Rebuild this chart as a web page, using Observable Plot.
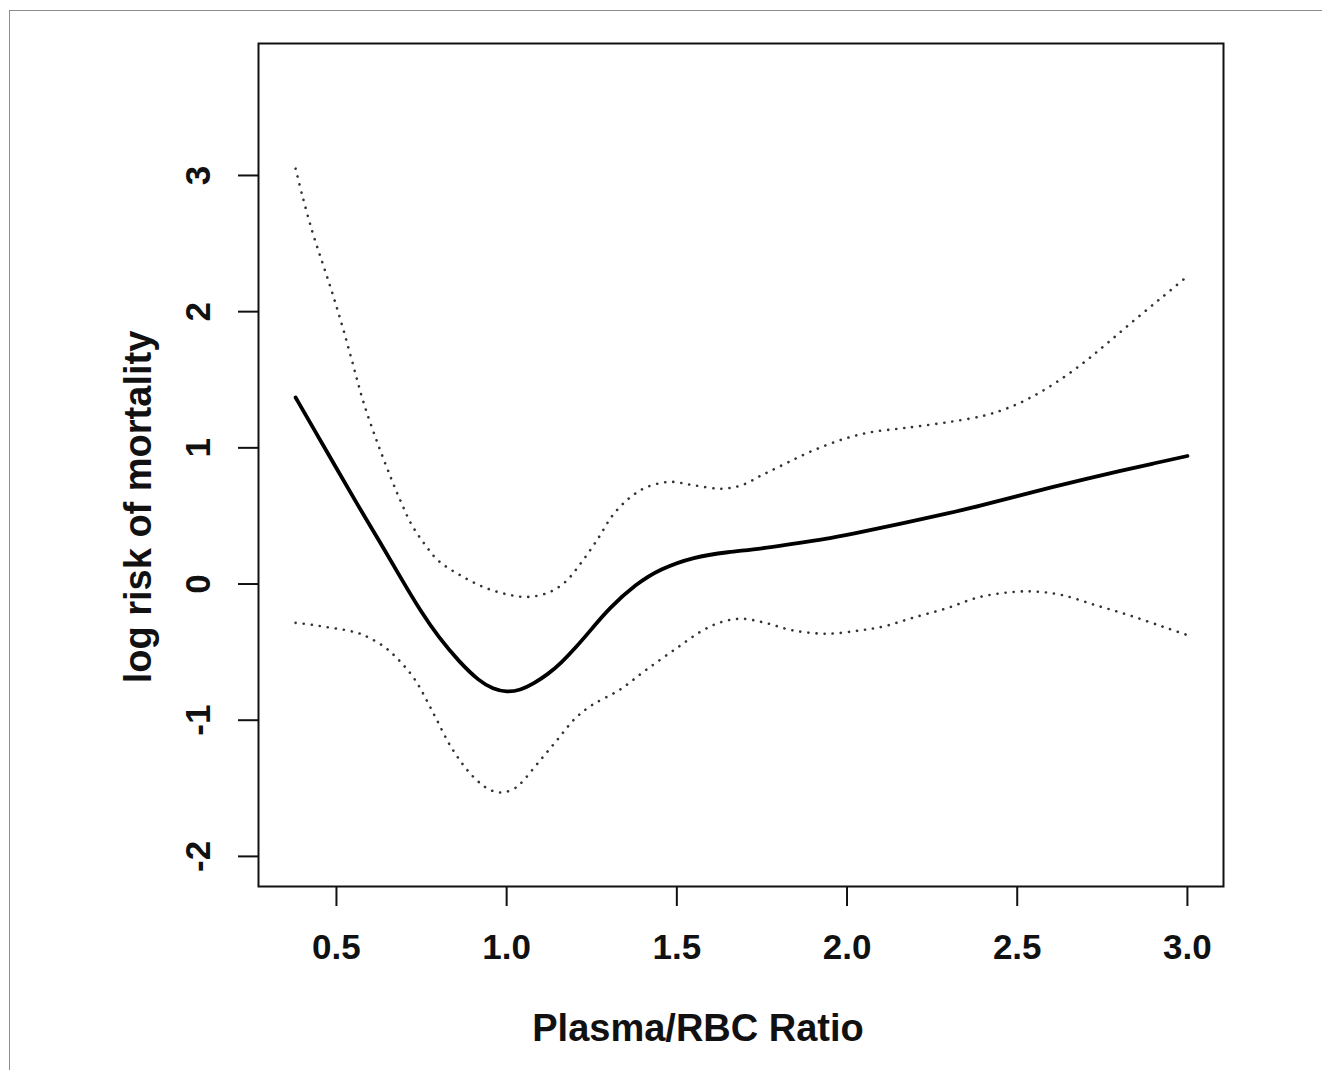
<!DOCTYPE html>
<html>
<head>
<meta charset="utf-8">
<script src="https://cdn.jsdelivr.net/npm/d3@7"></script>
<script src="https://cdn.jsdelivr.net/npm/@observablehq/plot@0.6"></script>
<style>
  html, body { margin: 0; padding: 0; background: #ffffff; }
  #wrap { position: relative; width: 1322px; height: 1070px; overflow: hidden; }
  #border { position: absolute; left: 9px; top: 10px; width: 1330px; height: 1080px; border: 1.5px solid #8c8c8c; box-sizing: border-box; pointer-events: none; }
</style>
</head>
<body>
<div id="wrap"><div id="border"></div></div>
<script>
// Fitted spline (solid line)
const fitX = [0.38, 0.44, 0.50, 0.56, 0.63, 0.69, 0.75, 0.80, 0.86, 0.92, 0.96, 1.00, 1.04, 1.08, 1.12, 1.16, 1.20, 1.25, 1.30, 1.38, 1.45, 1.55, 1.65, 1.75, 1.85, 1.95, 2.05, 2.15, 2.30, 2.40, 2.50, 2.60, 2.70, 2.80, 2.90, 3.00];
const fitY = [1.37, 1.11, 0.85, 0.59, 0.30, 0.04, -0.21, -0.39, -0.57, -0.715, -0.77, -0.795, -0.78, -0.73, -0.665, -0.58, -0.475, -0.33, -0.18, 0.0, 0.11, 0.20, 0.235, 0.26, 0.30, 0.335, 0.385, 0.44, 0.52, 0.58, 0.645, 0.71, 0.77, 0.83, 0.885, 0.94];

// Upper confidence band (dotted)
const upperX = [0.38, 0.40, 0.43, 0.46, 0.49, 0.52, 0.55, 0.58, 0.62, 0.66, 0.69, 0.72, 0.76, 0.80, 0.86, 0.93, 1.00, 1.06, 1.12, 1.17, 1.22, 1.27, 1.31, 1.36, 1.41, 1.48, 1.55, 1.63, 1.69, 1.75, 1.82, 1.90, 1.99, 2.07, 2.15, 2.20, 2.30, 2.40, 2.47, 2.54, 2.62, 2.70, 2.77, 2.85, 2.93, 3.00];
const upperY = [3.05, 2.85, 2.58, 2.35, 2.12, 1.87, 1.60, 1.33, 1.04, 0.78, 0.60, 0.44, 0.29, 0.17, 0.07, -0.02, -0.075, -0.095, -0.065, 0.01, 0.16, 0.34, 0.50, 0.63, 0.71, 0.75, 0.725, 0.70, 0.725, 0.80, 0.885, 0.98, 1.065, 1.115, 1.14, 1.155, 1.19, 1.235, 1.29, 1.37, 1.49, 1.635, 1.78, 1.95, 2.115, 2.26];

// Lower confidence band (dotted)
const lowerX = [0.38, 0.43, 0.48, 0.53, 0.57, 0.60, 0.64, 0.68, 0.73, 0.785, 0.84, 0.90, 0.95, 0.99, 1.03, 1.05, 1.10, 1.15, 1.20, 1.25, 1.33, 1.41, 1.50, 1.57, 1.63, 1.69, 1.76, 1.84, 1.94, 2.04, 2.11, 2.19, 2.29, 2.39, 2.49, 2.55, 2.63, 2.73, 2.83, 2.93, 3.00];
const lowerY = [-0.285, -0.30, -0.32, -0.34, -0.365, -0.40, -0.46, -0.55, -0.70, -0.95, -1.21, -1.41, -1.51, -1.53, -1.49, -1.44, -1.29, -1.14, -0.99, -0.89, -0.78, -0.63, -0.47, -0.35, -0.28, -0.255, -0.285, -0.34, -0.365, -0.34, -0.31, -0.25, -0.18, -0.095, -0.058, -0.055, -0.08, -0.155, -0.23, -0.315, -0.375];

// Axis ticks and labels
const xTicks = [0.5, 1.0, 1.5, 2.0, 2.5, 3.0];
const xTickLabels = ["0.5", "1.0", "1.5", "2.0", "2.5", "3.0"];
const yTicks = [-2, -1, 0, 1, 2, 3];
const yTickLabels = ["-2", "-1", "0", "1", "2", "3"];
const xTitle = "Plasma/RBC Ratio";
const yTitle = "log risk of mortality";

const zip = (xs, ys) => xs.map((x, i) => ({x, y: ys[i]}));
const fit = zip(fitX, fitY);
const upper = zip(upperX, upperY);
const lower = zip(lowerX, lowerY);

const font = "'Liberation Sans', Arial, Helvetica, sans-serif";

const chart = Plot.plot({
  width: 1322,
  height: 1070,
  marginLeft: 258,
  marginRight: 99,
  marginTop: 43,
  marginBottom: 184,
  x: {domain: [0.271, 3.106], label: null},
  y: {domain: [-2.221, 3.969], label: null},
  style: {fontFamily: font, fontWeight: "bold", background: "transparent", color: "black", overflow: "visible"},
  marks: [
    Plot.axisX(xTicks, {tickSize: 20, strokeWidth: 2, stroke: "#111", tickFormat: () => "", label: null}),
    Plot.axisY(yTicks, {tickSize: 20, strokeWidth: 2, stroke: "#111", tickFormat: () => "", label: null}),
    Plot.text(xTicks, {x: d => d, text: (d, i) => xTickLabels[i], frameAnchor: "bottom", dy: 72, lineAnchor: "bottom", textAnchor: "middle", fontSize: 35, fontWeight: "bold", fill: "#111"}),
    Plot.text(yTicks, {y: d => d, text: (d, i) => yTickLabels[i], frameAnchor: "left", dx: -49, rotate: -90, lineAnchor: "bottom", textAnchor: "middle", fontSize: 35, fontWeight: "bold", fill: "#111"}),
    Plot.text([xTitle], {text: d => d, frameAnchor: "bottom", dx: -43, dy: 154, lineAnchor: "bottom", textAnchor: "middle", fontSize: 38, fontWeight: "bold", fill: "#111"}),
    Plot.text([yTitle], {text: d => d, frameAnchor: "left", dx: -108, dy: 42, rotate: -90, lineAnchor: "bottom", textAnchor: "middle", fontSize: 38, fontWeight: "bold", fill: "#111"}),
    Plot.line(upper, {x: "x", y: "y", stroke: "#333", strokeWidth: 2.6, strokeLinecap: "round", strokeDasharray: "0.1,8", curve: "catmull-rom"}),
    Plot.line(lower, {x: "x", y: "y", stroke: "#333", strokeWidth: 2.6, strokeLinecap: "round", strokeDasharray: "0.1,8", curve: "catmull-rom"}),
    Plot.line(fit, {x: "x", y: "y", stroke: "black", strokeWidth: 3.8, curve: "basis"}),
    Plot.frame({stroke: "#111", strokeWidth: 2})
  ]
});
chart.style.position = "absolute";
chart.style.left = "0px";
chart.style.top = "0px";
document.getElementById("wrap").appendChild(chart);
</script>
</body>
</html>
